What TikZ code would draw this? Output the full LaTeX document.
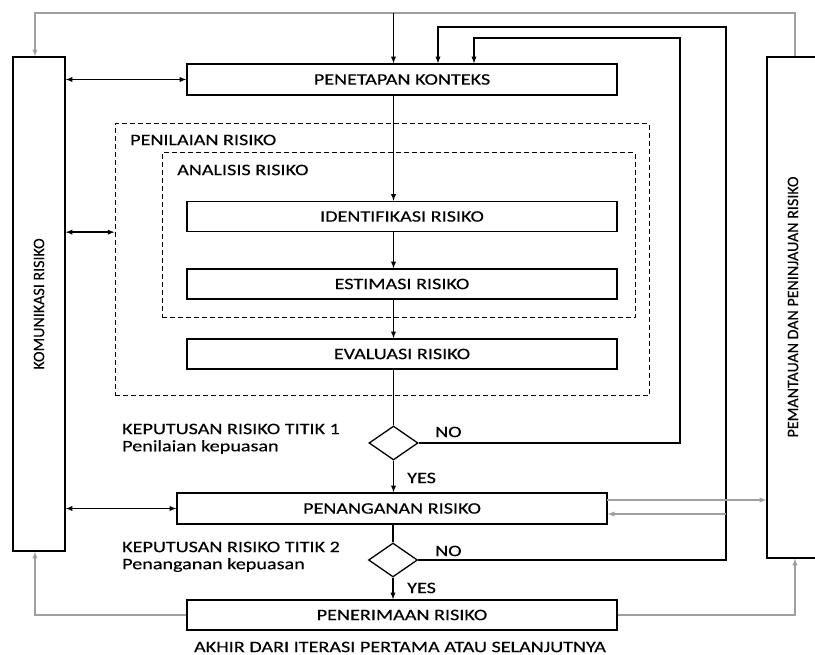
\documentclass[tikz,border=0pt]{standalone}
\usepackage{fontspec}
\setmainfont{Carlito}
\newfontfamily\widefont[FakeStretch=1.26, FakeBold=0.25]{Carlito}
\newfontfamily\uprightfont[FakeBold=0.25]{Carlito}
\usetikzlibrary{shapes.geometric}
\tikzset{every node/.style={font=\widefont\fontsize{16}{19}\selectfont, text=black},
 box/.style={draw, line width=1.3pt, minimum width=430pt, minimum height=30pt, inner sep=0pt},
 tallbox/.style={draw, line width=1.3pt, minimum width=52pt, inner sep=0pt},
 decision/.style={draw, line width=1.3pt, diamond, minimum width=49pt, minimum height=34pt, inner sep=0pt},
 zone/.style={draw, line width=1pt, dash pattern=on 5pt off 3pt, inner sep=0pt},
 lbl/.style={anchor=west, inner sep=0pt},
 sideways/.style={rotate=90, font=\uprightfont\fontsize{16}{19}\selectfont},
 link/.style={line width=1.3pt},
 soft/.style={line width=1.3pt, gray!75},
 }

\begin{document}
\begin{tikzpicture}[x=1pt, y=-1pt]
        \useasboundingbox (0, 0) rectangle (815, 655);
        \clip (0, 0) rectangle (815, 655);

        \node[zone, minimum width=534pt, minimum height=272pt] (nilai) at (382, 260) {};
        \node[zone, minimum width=473pt, minimum height=165pt] (analisis) at (398.5, 235.5) {};
        \node[lbl] at (130, 140) {PENILAIAN RISIKO};
        \node[lbl] at (177, 170) {ANALISIS RISIKO};

        \node[box, minimum height=31pt] (ctx) at (402, 79.5) {PENETAPAN KONTEKS};
        \foreach \name/\y/\txt in {idf/216.5/IDENTIFIKASI RISIKO, est/284/ESTIMASI RISIKO, eva/354/EVALUASI RISIKO} {
            \node[box] (\name) at (402, \y) {\txt};
        }
        \node[box, minimum height=31pt] (pen) at (392, 508.5) {PENANGANAN RISIKO};
        \node[box] (trm) at (402, 615) {PENERIMAAN RISIKO};

        \node[tallbox, minimum height=494pt] (kom) at (39, 304) {};
        \node[sideways] at (kom.center) {KOMUNIKASI RISIKO};
        \node[tallbox, minimum width=70pt, minimum height=501pt] (pan) at (802, 307.5) {};
        \node[sideways] at (793, 307) {PEMANTAUAN DAN PENINJAUAN RISIKO};

        \node[decision] (d1) at (393.5, 443) {};
        \node[decision] (d2) at (393, 560) {};
        \node[lbl] at (122, 429) {KEPUTUSAN RISIKO TITIK 1};
        \node[lbl] at (122, 447) {Penilaian kepuasan};
        \node[lbl] at (122, 547) {KEPUTUSAN RISIKO TITIK 2};
        \node[lbl] at (122, 565) {Penanganan kepuasan};
        \node[lbl] at (435, 432) {NO};
        \node[lbl] at (435, 551) {NO};
        \node[lbl] at (407, 478) {YES};
        \node[lbl] at (407, 588) {YES};
        \node at (400, 647) {AKHIR DARI ITERASI PERTAMA ATAU SELANJUTNYA};

        \coordinate (topL) at (35, 13);
        \coordinate (topR) at (795, 13);
        \coordinate (n1) at (680, 38);
        \coordinate (in1) at (474, 38);
        \coordinate (n2) at (726, 27);
        \coordinate (in2) at (438, 27);
        \coordinate (back) at (726, 514);
        \coordinate (fwd) at (607, 500);

        \draw[link, ->, >=latex] (ctx.south -| d1) -- (idf.north -| d1);
        \draw[link, ->, >=latex] (idf.south -| d1) -- (est.north -| d1);
        \draw[link, ->, >=latex] (est.south -| d1) -- (eva.north -| d1);
        \draw[link] (eva.south -| d1) -- (d1.north);
        \draw[link, ->, >=latex] (d1.south) -- (pen.north -| d1);
        \draw[link] (pen.south -| d2) -- (d2.north);
        \draw[link, ->, >=latex] (d2.south) -- (trm.north -| d2);

        \draw[link, ->, >=latex] (d1.east) -| (n1) -- (in1) -- (in1 |- ctx.north);
        \draw[link, ->, >=latex] (d2.east) -| (n2) -- (in2) -- (in2 |- ctx.north);
        \draw[soft, ->, >=latex] (back) -- (back -| pen.east);
        \draw[soft, ->, >=latex] (fwd) -- (fwd -| pan.west);

        \draw[soft, ->, >=latex] (pan.north -| topR) -- (topR) -- (topL) -- (topL |- kom.north);
        \draw[link, ->, >=latex] (topR -| d1) -- (ctx.north -| d1);

        \draw[link, <->, >=latex] (kom.east |- ctx) -- (ctx.west);
        \draw[link, <->, >=latex] (kom.east |- idf.south) -- (nilai.west |- idf.south);
        \draw[link, <->, >=latex] (kom.east |- pen) -- (pen.west);

        \draw[soft, ->, >=latex] (trm.west) -| (topL |- kom.south);
        \draw[soft, ->, >=latex] (trm.east) -| (topR |- pan.south);
    \end{tikzpicture}
\end{document}
